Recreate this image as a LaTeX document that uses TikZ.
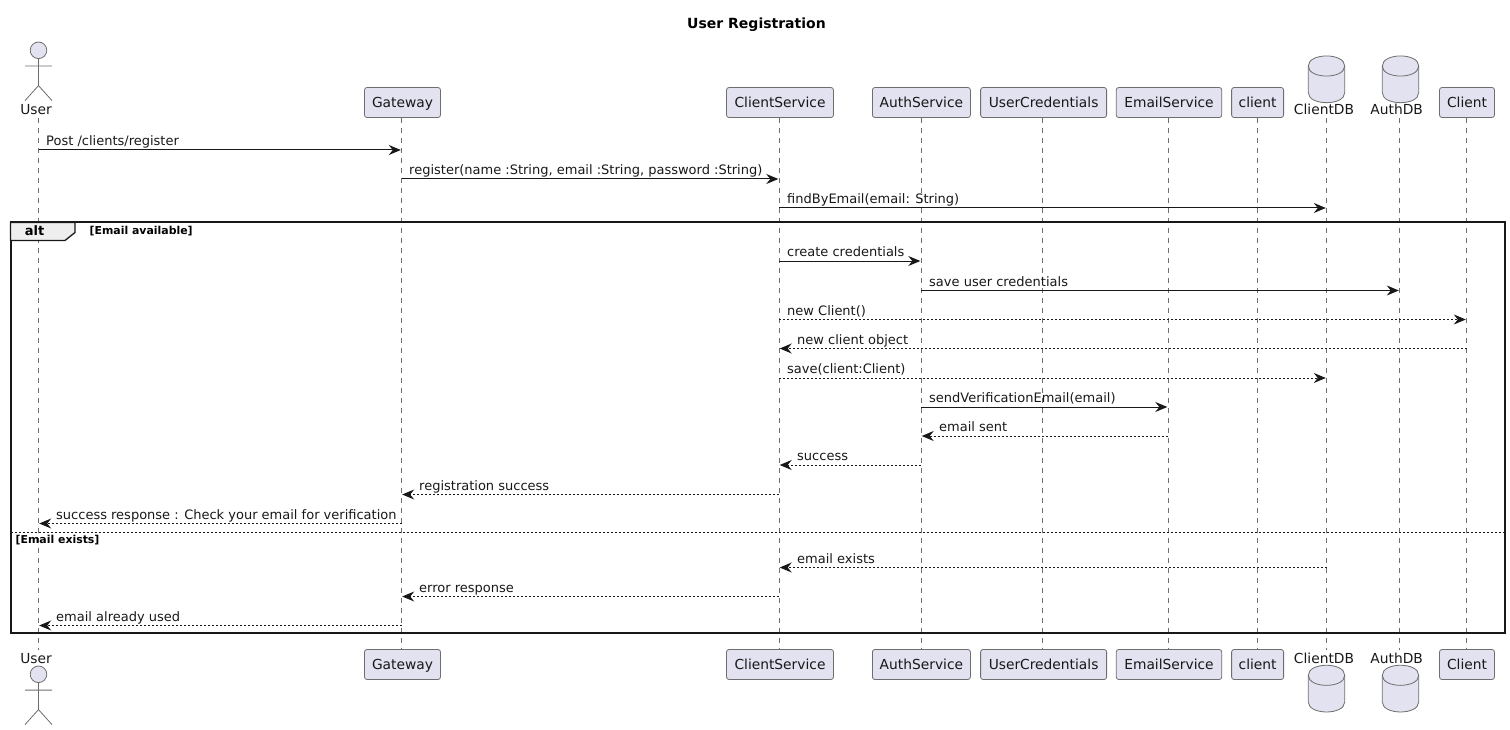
\documentclass[tikz,border=0pt]{standalone}
\usepackage{fontspec}
\setmainfont{DejaVu Sans}
\usetikzlibrary{arrows.meta}
\definecolor{partfill}{HTML}{E2E2F0}
\definecolor{partline}{HTML}{6E6E6E}
\definecolor{inkc}{HTML}{181818}
\definecolor{tabfill}{HTML}{EEEEEE}
\tikzstyle{part}=[shape=rectangle,
                draw=partline,
                fill=partfill,
                rounded corners=2.5pt,
                line width=0.8pt,
                text=inkc,
                minimum height=30pt,
                inner sep=0pt,
                text height=11pt,
                text depth=1.4pt,
                font=\fontsize{13.8}{16}\selectfont]
\tikzstyle{plain}=[inner sep=0pt,
                text=inkc,
                anchor=base,
                font=\fontsize{13.8}{16}\selectfont]
\tikzstyle{msg}=[inner sep=0pt,
                text=inkc,
                anchor=south west,
                text depth=4pt,
                font=\fontsize{13}{15}\selectfont]
\tikzstyle{guard}=[inner sep=0pt,
                text=black,
                anchor=base west,
                font=\bfseries\fontsize{10.9}{12}\selectfont]
\tikzstyle{life}=[draw=partline,line width=0.6pt,dash pattern=on 5pt off 5pt]
\tikzstyle{sync}=[->,draw=inkc,line width=1pt,shorten >=0.7pt]
\tikzstyle{reply}=[->,draw=inkc,line width=1pt,shorten >=0.7pt,dash pattern=on 2pt off 2pt]
\tikzset{
  actorfig/.pic={
    \draw[draw=partline,line width=0.8pt,fill=partfill] (0,-8.3) circle (8.3);
    \draw[draw=partline,line width=0.8pt] (0,0) -- (0,27) (-13.5,7.5) -- (13.5,7.5)
      (-13.5,42) -- (0,27) -- (13.5,42);
  },
  dbdrum/.pic={
    \draw[draw=partline,line width=0.8pt,fill=partfill] (-18.2,10) .. controls (-18.2,-3.4) and (18.2,-3.4) .. (18.2,10)
      -- (18.2,36.7) .. controls (18.2,50) and (-18.2,50) .. (-18.2,36.7) -- cycle;
    \draw[draw=partline,line width=0.8pt] (-18.2,10) .. controls (-18.2,23.4) and (18.2,23.4) .. (18.2,10);
  }
}

\begin{document}
\begin{tikzpicture}[>={Stealth[length=12pt,width=10pt,inset=4pt]},x=1pt,y=-1pt]
\useasboundingbox (0,0) rectangle (1510,730);

% title
\node[inner sep=0pt,text=black,font=\bfseries\fontsize{14}{16}\selectfont] (title) at (756.5,25) {User Registration};

% lifelines
\coordinate (user) at (38.5,118);   \coordinate (userb) at (38.5,650);
\coordinate (gw) at (401.5,118);    \coordinate (gwb) at (401.5,650);
\coordinate (cs) at (779,118);      \coordinate (csb) at (779,650);
\coordinate (as) at (921,118);      \coordinate (asb) at (921,650);
\coordinate (uc) at (1042,118);     \coordinate (ucb) at (1042,650);
\coordinate (es) at (1168,118);     \coordinate (esb) at (1168,650);
\coordinate (cl) at (1257.5,118);   \coordinate (clb) at (1257.5,650);
\coordinate (cdb) at (1326.5,118);  \coordinate (cdbb) at (1326.5,650);
\coordinate (adb) at (1399.5,118);  \coordinate (adbb) at (1399.5,650);
\coordinate (co) at (1466.5,118);   \coordinate (cob) at (1466.5,650);
\draw[life] (user) -- (userb);
\draw[life] (gw) -- (gwb);
\draw[life] (cs) -- (csb);
\draw[life] (as) -- (asb);
\draw[life] (uc) -- (ucb);
\draw[life] (es) -- (esb);
\draw[life] (cl) -- (clb);
\draw[life] (cdb) -- (cdbb);
\draw[life] (adb) -- (adbb);
\draw[life] (co) -- (cob);

% participants, top
\pic at (38.5,58.6) {actorfig};
\node[plain] (usert) at (36,115) {User};
\node[part,minimum width=76pt] (gwt) at (402.5,102.5) {Gateway};
\node[part,minimum width=107pt] (cst) at (780,102.5) {ClientService};
\node[part,minimum width=98pt] (ast) at (921.4,102.5) {AuthService};
\node[part,minimum width=126pt] (uct) at (1043.6,102.5) {UserCredentials};
\node[part,minimum width=105.5pt] (est) at (1169,102.5) {EmailService};
\node[part,minimum width=52pt] (clt) at (1257.6,102.5) {client};
\pic at (1326.5,56) {dbdrum};
\node[plain] (cdbt) at (1324,115) {ClientDB};
\pic at (1400.5,56) {dbdrum};
\node[plain] (adbt) at (1396.7,115) {AuthDB};
\node[part,minimum width=55pt] (cot) at (1467,102.5) {Client};

% participants, bottom
\pic at (38.5,682.6) {actorfig};
\node[plain] (userf) at (36,663) {User};
\node[part,minimum width=76pt] (gwf) at (402.5,664.5) {Gateway};
\node[part,minimum width=107pt] (csf) at (780,664.5) {ClientService};
\node[part,minimum width=98pt] (asf) at (921.4,664.5) {AuthService};
\node[part,minimum width=126pt] (ucf) at (1043.6,664.5) {UserCredentials};
\node[part,minimum width=105.5pt] (esf) at (1169,664.5) {EmailService};
\node[part,minimum width=52pt] (clf) at (1257.6,664.5) {client};
\pic at (1326.5,665.3) {dbdrum};
\node[plain] (cdbf) at (1324,663) {ClientDB};
\pic at (1400.5,665.3) {dbdrum};
\node[plain] (adbf) at (1396.7,663) {AuthDB};
\node[part,minimum width=55pt] (cof) at (1467,664.5) {Client};

% alt frame
\draw[draw=inkc,line width=2pt] (10.5,222.5) rectangle (1505,633);
\node[inner sep=0pt] (altbox) at (10.5,222.5) {};
\draw[draw=inkc,line width=1.3pt,fill=tabfill] (altbox.center) -- ++(64.5,0) -- ++(0,10) -- ++(-10,8) -- ++(-54.5,0) -- cycle;
\node[inner sep=0pt,text=black,anchor=base,font=\bfseries\fontsize{13}{15}\selectfont] (alt) at (34.5,236) {alt};
\node[guard] (avail) at (89.5,235) {[Email available]};
\coordinate (divl) at (10.5,532.5);
\coordinate (divr) at (1505,532.5);
\draw[draw=inkc,line width=1pt,dash pattern=on 2pt off 2pt] (divl) -- (divr);
\node[guard] (exists) at (15.5,543) {[Email exists]};

% messages
\node[msg] (m1) at (46,150) {Post /clients/register};
\node[msg] (m2) at (409,179) {register(name :String, email :String, password :String)};
\node[msg] (m3) at (787,208) {findByEmail(email: String)};
\node[msg] (m4) at (787,261) {create credentials};
\node[msg] (m5) at (929,290.5) {save user credentials};
\node[msg] (m6) at (787,319.5) {new Client()};
\node[msg] (m7) at (797,348.5) {new client object};
\node[msg] (m8) at (787,378) {save(client:Client)};
\node[msg] (m9) at (929,407) {sendVerificationEmail(email)};
\node[msg] (m10) at (939,436) {email sent};
\node[msg] (m11) at (797,465) {success};
\node[msg] (m12) at (419,494.5) {registration success};
\node[msg] (m13) at (56,523.5) {success response : Check your email for verification};
\node[msg] (m14) at (797,567.5) {email exists};
\node[msg] (m15) at (419,596.5) {error response};
\node[msg] (m16) at (56,625.5) {email already used};

% arrows
\draw[sync] (user |- m1.south) -- (gw |- m1.south);
\draw[sync] (gw |- m2.south) -- (cs |- m2.south);
\draw[sync] (cs |- m3.south) -- (cdb |- m3.south);
\draw[sync] (cs |- m4.south) -- (as |- m4.south);
\draw[sync] (as |- m5.south) -- (adb |- m5.south);
\draw[reply] (cs |- m6.south) -- (co |- m6.south);
\draw[reply] (co |- m7.south) -- (cs |- m7.south);
\draw[reply] (cs |- m8.south) -- (cdb |- m8.south);
\draw[sync] (as |- m9.south) -- (es |- m9.south);
\draw[reply] (es |- m10.south) -- (as |- m10.south);
\draw[reply] (as |- m11.south) -- (cs |- m11.south);
\draw[reply] (cs |- m12.south) -- (gw |- m12.south);
\draw[reply] (gw |- m13.south) -- (user |- m13.south);
\draw[reply] (cdb |- m14.south) -- (cs |- m14.south);
\draw[reply] (cs |- m15.south) -- (gw |- m15.south);
\draw[reply] (gw |- m16.south) -- (user |- m16.south);

\end{tikzpicture}
\end{document}
